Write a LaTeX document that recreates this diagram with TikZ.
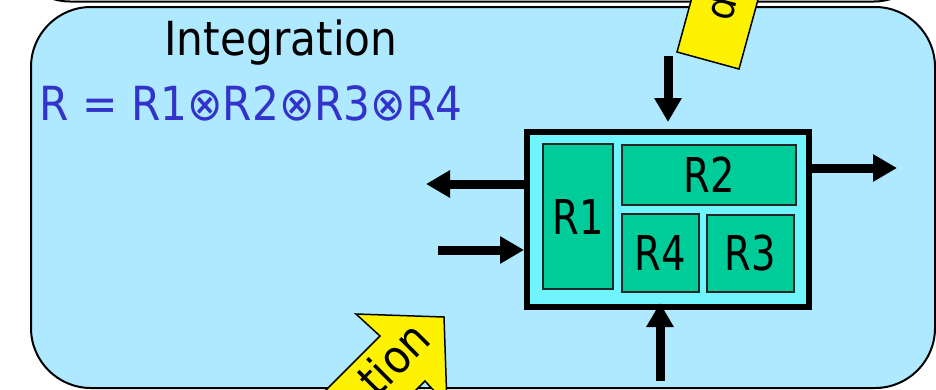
\documentclass[tikz,border=0pt]{standalone}
\usepackage{fontspec}
\setmainfont{DejaVu Sans Condensed}
\newfontfamily\labelfont[FakeStretch=0.8]{DejaVu Sans}
\usetikzlibrary{arrows.meta}
\definecolor{skyfill}{RGB}{175,233,255}
\definecolor{corefill}{RGB}{112,245,255}
\definecolor{partfill}{RGB}{0,204,153}
\definecolor{formula}{RGB}{51,51,204}
\tikzset{
  part/.style={draw=black!85, line width=1.5pt, fill=partfill, inner sep=0pt,
    font=\labelfont\fontsize{48}{56}\selectfont},
  bigarrow/.style={line width=9pt, -{Triangle[length=24pt,width=26pt]}},
  note/.style={draw=black, line width=1.5pt, fill=yellow, line join=miter},
  big/.style={font=\fontsize{47}{56}\selectfont}
}
\begin{document}
\begin{tikzpicture}[x=1pt,y=-1pt]
\useasboundingbox (0,0) rectangle (936,389);
\clip (0,0) rectangle (936,389);
\fill[white] (0,0) rectangle (936,389);
% frame of the panel above
\draw[line width=2pt, fill=white, rounded corners=58pt] (12,-120) rectangle (932,1.5);
% integration panel
\draw[line width=2pt, fill=skyfill, rounded corners=60pt] (31,7) rectangle (935,388);
\node[big, anchor=base] (title) at (281,55) {Integration};
\node[big, anchor=base, text=formula] (eq) at (251,120) {R = R1⊗R2⊗R3⊗R4};
% composed component
\node[draw=black, line width=6pt, fill=corefill, minimum width=282pt, minimum height=175pt, inner sep=0pt] (core) at (668,219.5) {};
\node[part, minimum width=70pt, minimum height=145pt] (r1) at (578,216.5) {R1};
\node[part, minimum width=174pt, minimum height=60pt] (r2) at (709,175) {R2};
\node[part, minimum width=77pt, minimum height=78pt] (r4) at (660.5,253) {R4};
\node[part, minimum width=87pt, minimum height=77pt] (r3) at (750.5,253.5) {R3};
% ports
\coordinate (outL) at (426,184);
\coordinate (inL) at (438,250);
\coordinate (outR) at (897,168);
\coordinate (inT) at (668,56);
\coordinate (inB) at (660,381);
\draw[bigarrow] (core.west |- outL) -- (outL);
\draw[bigarrow] (inL) -- (core.west |- inL);
\draw[bigarrow] (core.east |- outR) -- (outR);
\draw[bigarrow] (inT) -- (668,122);
\draw[bigarrow] (inB) -- (660,303);
% yellow tag at the top
\draw[note] (677,52) -- (739,69) -- (739+0.264*120,69-0.964*120) -- (677+0.264*120,52-0.964*120) -- cycle;
\node[rotate=75, font=\fontsize{40}{48}\selectfont] (tag) at (720,8) {d};
% yellow arrow at the bottom
\draw[note] (444,317) -- (447,405) -- (425,381) -- (325,481) -- (280,436) -- (380,336) -- (356,314) -- cycle;
\node[rotate=45, anchor=mid east, font=\fontsize{46}{54}\selectfont] (flow) at (434,338) {tion};
\end{tikzpicture}
\end{document}
